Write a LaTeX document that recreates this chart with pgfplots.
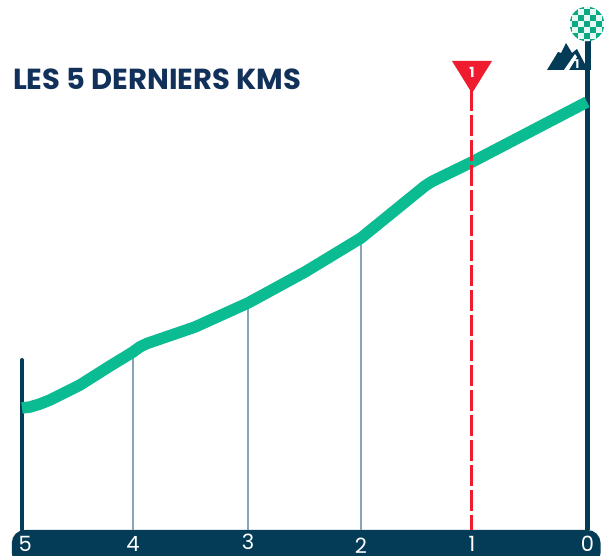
\documentclass[border=0pt]{standalone}
\usepackage{pgfplots}
\pgfplotsset{compat=1.18}
\usepackage{fontspec}
\setmainfont{Poppins}
\definecolor{navy}{HTML}{043B57}
\definecolor{titlec}{HTML}{11305A}
\definecolor{green1}{HTML}{0BBC93}
\definecolor{grayl}{HTML}{8AA3B6}
\definecolor{redm}{HTML}{EE1C2E}
\tikzset{km/.style={white,font=\fontsize{21}{21}\selectfont,anchor=base,inner sep=0pt,text height=15pt,text depth=0pt}}
\begin{document}
\begin{tikzpicture}[x=1pt,y=1pt]
\begin{axis}[
  at={(0pt,0pt)},anchor=south west,
  scale only axis,width=613pt,height=556pt,
  xmin=-0.2301,xmax=5.1947,x dir=reverse,
  ymin=0,ymax=556,
  hide axis,clip=true]
% bottom band
\addplot[draw=none,fill=navy,rounded corners=13pt] coordinates
  {(5.09,26) (-0.12,26) (-0.12,-10) (5.09,-10)} --cycle;
% vertical drop lines
\addplot[grayl,line width=2pt] coordinates {(4.018,204) (4.018,26)};
\addplot[grayl,line width=2pt] coordinates {(3.0,253) (3.0,26)};
\addplot[grayl,line width=2pt] coordinates {(2.0,318) (2.0,26)};
% left and right posts
\addplot[navy,line width=4pt,line cap=round] coordinates {(5,196) (5,26)};
\addplot[navy,line width=5pt] coordinates {(-0.005,516) (-0.005,26)};
% profile
\addplot[green1,line width=11.5pt,line join=round] coordinates {
 (5,148) (4.929,149) (4.841,152) (4.752,156) (4.487,171) (4.221,190) (4.018,204) (3.958,209) (3.894,212.5)
 (3.469,229) (3.0,253) (2.496,284) (2.0,318) (1.434,370) (1.372,374.5) (1.018,394) (0,454)};
% red flamme rouge line
\addplot[redm,line width=3pt,dash pattern=on 21.5pt off 3.5pt] coordinates {(1.018,466) (1.018,26)};
% kilometre labels
\node[km] at (axis cs:4.972,4) {5};
\node[km] at (axis cs:4.018,4) {4};
\node[km] at (axis cs:3.0,6) {3};
\node[km] at (axis cs:2.0,2) {2};
\node[km] at (axis cs:1.018,4) {1};
\node[km] at (axis cs:-0.005,4) {0};
% title
\node[titlec,font=\fontsize{29}{30}\bfseries\selectfont,anchor=west,inner sep=0pt] at (axis cs:5.08,477) {LES 5 DERNIERS KMS};
\end{axis}
% red triangle
\fill[redm] (452,495) -- (492,495) -- (474,466) -- (472,463) -- (470,466) -- cycle;
\node[white,font=\fontsize{14}{14}\bfseries\selectfont,inner sep=0pt] at (472,484) {1};
% mountain icon
\fill[navy] (547,486) -- (558,504) -- (561,503) -- (566,513) -- (572,503) -- (577,507) -- (587,488) -- (587,486) -- cycle;
\fill[white] (564,486) -- (575,502) -- (577,499) -- (569,486) -- cycle;
\node[white,font=\fontsize{12}{12}\bfseries\selectfont,inner sep=0pt] at (577,492) {1};
% right post over the icon, and checkered ball
\fill[navy] (585.5,486) rectangle (590.5,520);
\begin{scope}
\clip (587,532) circle (17.3);
\fill[green1!10!white] (569,514) rectangle (606,550);
\foreach \i in {0,...,6}{\foreach \j in {0,...,6}{
  \pgfmathparse{int(mod(\i+\j,2))}
  \ifnum\pgfmathresult=0\relax
    \fill[green1!90!black] ({566+6*\i},{511+6*\j}) rectangle ++(6,6);
  \fi}}
\end{scope}
\useasboundingbox (0,0) rectangle (613,556);
\end{tikzpicture}
\end{document}
